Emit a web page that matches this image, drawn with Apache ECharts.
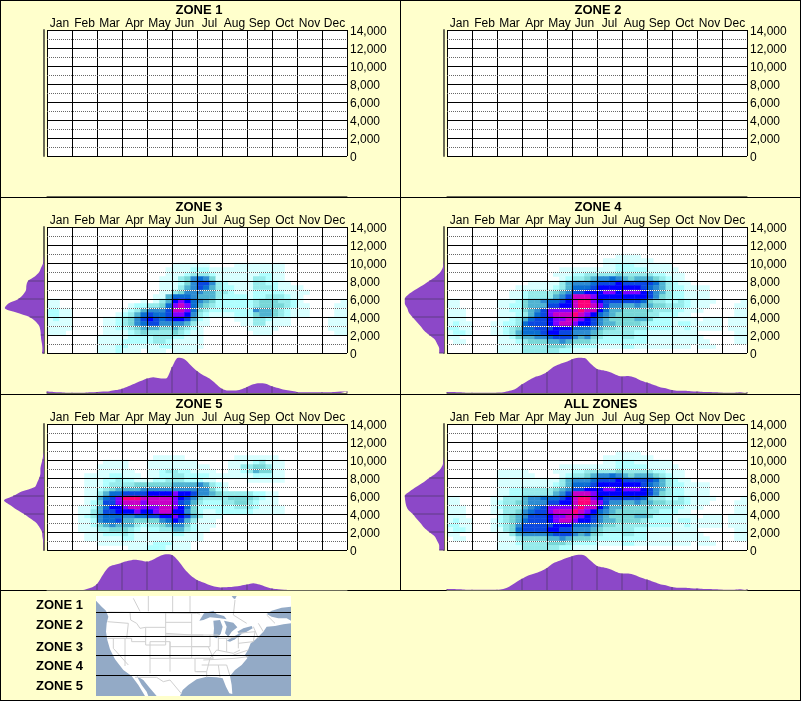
<!DOCTYPE html>
<html><head><meta charset="utf-8">
<style>html,body{margin:0;padding:0;background:#ffffcc}#c{width:801px;height:701px}</style>
<script src="https://cdn.jsdelivr.net/npm/echarts@6/dist/echarts.min.js"></script>
</head><body><div id="c"></div>
<script>
const months = ['Jan','Feb','Mar','Apr','May','Jun','Jul','Aug','Sep','Oct','Nov','Dec'];
const zoneNames = ['ZONE 1','ZONE 2','ZONE 3','ZONE 4','ZONE 5','ALL ZONES'];
const levelColors = ['#d8ffff','#b0ffff','#96ebeb','#78d7d7','#50b4d2','#2d8cd2','#0a6ed2','#0a48e0','#0000ff','#8000ff','#c800c8','#ff0078'];

// density class per half-thousand-foot row (top row = 14,000-13,500) and quarter-month column
const heatZone1 = [];
const heatZone2 = [];
const heatZone3 = ['','','','','','','','',
'0000 0000 0000 0000 0000 1111 1100 0011 1111 1100',
'0000 0000 0000 0000 0001 1112 2211 1111 1111 1100',
'0000 0000 0000 0000 0001 1123 3321 1111 1122 1100',
'0000 0000 0000 0000 0011 1346 7641 1111 1332 1100',
'0000 0000 0000 0000 0011 1246 8863 2111 1332 2110',
'0000 0000 0000 0000 0011 1356 8753 2211 1333 2111 1000',
'0000 0000 0000 0000 0011 3466 6553 3211 1222 2211 1100',
'0000 0000 0000 0000 0115 7776 5553 2222 1223 3321 1000',
'1100 0000 0000 0001 0135 9a97 6542 2222 2344 4332 1000 0001',
'1100 0000 0000 0122 3347 aba7 5432 2222 2344 4432 1100 0011',
'2211 0000 0000 1235 6668 bba7 4322 2222 2655 4321 1100 0011',
'2211 0000 0001 2357 8778 aa96 3211 1122 2455 4321 1100 0011',
'1211 0000 0112 3468 9878 9985 2100 0011 1332 1110 0000 0111',
'1111 0000 0112 3467 8866 6653 1100 0001 1331 1110 0000 0111',
'1111 0000 0112 2345 5544 5432 1000 0000 1111 1000 0000 0111',
'1110 0000 0111 1234 3333 4321 1000 0000 0111 0000 0000 0011',
'0000 0000 1111 1222 2333 2211 1000',
'0000 0000 1111 2222 2332 1111 1000',
'0000 0000 1112 2111 1122 1111 1000',
'0000 0000 1112 1110 1110 1111'];
const heatZone4 = ['','','','','','',
'0000 0000 0000 0000 0000 0000 0001 1110',
'0000 0000 0000 0000 0000 0000 0111 1111 1000',
'0000 0000 0000 0000 0000 0000 0112 2211 1111',
'0000 0000 0000 0000 0011 1111 1112 2222 1111 1000',
'0000 0000 0000 0000 0111 2233 3334 3333 3221 1100',
'0000 0000 0000 0000 0012 3345 6676 5455 5432 1100',
'0000 0000 0000 0111 1135 6667 8889 8888 8753 2110',
'0000 0000 0001 1111 1235 7778 9999 9998 7653 2211 1100',
'0000 0000 0011 2333 3456 8899 9aa9 aaa9 8653 2211 1100',
'0000 0000 0011 2333 3568 bbba 9999 9999 8643 2211 1100',
'1100 0000 1112 4556 7789 bcca 9888 8887 4332 2321 1110 0001',
'1100 0000 1122 4555 8899 bccb a866 5565 5443 3321 1100 0011',
'1110 0000 1122 4568 aaaa bcbb 9755 4444 4333 2211 1000 0011',
'1110 0000 1112 3578 abbb cba9 7654 4444 3322 2110 0000 0011',
'1110 0000 1123 5788 9aab ba98 6544 4455 4222 1111 0111 0111',
'1211 0001 1223 7888 9abb a998 6554 4443 2222 1221 1111 0111',
'2211 0001 1234 7788 8999 7776 5443 3333 2222 1121 1111 0111',
'1221 0001 1235 7778 9988 6665 4333 3322 1111 1111 0000 0011',
'1100 0000 1124 5566 7888 6564 3222 3322 1111 1111 1000 0011',
'0110 0000 1112 3444 5565 4443 2222 2222 1111 1111 1100 0011',
'0000 0000 1111 3333 4443 2222 1111 2211 1111 1110 1110',
'0000 0000 1111 3333 3322 1111'];
const heatZone5 = ['','','','','','','',
'0000 0000 0000 0000 0111 1100 0000 0011 1111 1000',
'0000 0000 0111 1000 1111 1111 0000 0111 1231 1100',
'0000 0000 1111 1000 1111 1111 1100 0113 3443 1100',
'0000 0000 1111 1100 1123 3221 1110 0112 3544 1100',
'0000 0011 1122 1110 1122 3322 2211 1111 1222 1100',
'0000 0011 1223 2211 1223 3322 2110 0000 1111 1100',
'0000 0011 1233 3344 4444 5555 6532 1000',
'0000 0011 2345 5556 6666 6666 6642 1000',
'0000 0011 3577 8888 9999 a998 6654 3333 3221 1000',
'0000 0011 578a cccb bbbb a986 4333 3444 4321 1000',
'0000 0012 488a bbba bbbb a875 3222 3344 3211 1000',
'0000 0112 5799 abba aabb a974 2222 2233 3211 1100',
'0000 0113 5889 99a9 9abb 9964 2112 2222 2111 1100',
'0000 0123 6777 6677 8899 a985 3111',
'0000 0112 6778 5544 4467 9853 1110',
'0000 0112 4565 5532 3345 6642 1110',
'0000 0111 3344 4321 2233 5532 1100',
'0000 0011 1222 3211 1111 2211 1000',
'0000 0011 1111 2211 1111 1111 1000',
'0000 0000 1111 1111 1222 1110',
'0000 0000 0000 0111 2221 1110'];
const heatAll = ['','','','','','',
'0000 0000 0000 0000 0000 0000 0001 1110',
'0000 0000 0000 0000 0000 0000 0111 1111 1000',
'0000 0000 0000 0000 0000 0000 0112 2211 1111',
'0000 0000 0000 0000 0011 1111 1112 2222 1111 1000',
'0000 0000 1111 1000 0111 2233 3334 3333 3221 1100',
'0000 0000 1111 1100 0012 3345 6676 5455 5432 1100',
'0000 0000 1111 1111 1135 6667 8889 8888 8753 2110',
'0000 0000 1111 1111 1235 7778 9999 9998 7653 2211 1100',
'0000 0000 1122 3333 3456 8899 9aa9 aaa9 8653 2211 1100',
'0000 0000 1122 3333 3568 bbba 9999 9999 8643 2211 1100',
'1100 0001 1333 5667 7789 bcca 9888 8887 4332 2321 1110 0001',
'1100 0001 2334 5666 8899 bccb a866 5565 5443 3321 1100 0011',
'1110 0001 2333 5678 aaaa bcbb 9755 4444 4333 2211 1000 0011',
'1110 0001 1334 6788 abbb cba9 7654 4444 3322 2110 0000 0011',
'1110 0000 2345 6888 9aab ba98 6544 4455 4222 1111 0111 0111',
'1211 0001 2345 7888 9abb a998 6554 4443 2222 1221 1111 0111',
'2211 0001 2346 8888 8999 7776 5443 3333 2222 1121 1111 0111',
'1221 0001 1347 8888 9988 6665 4333 3322 1111 1111 0000 0011',
'1100 0000 1135 6666 7888 6564 3222 3322 1111 1111 1000 0011',
'0110 0000 1113 4444 5565 4443 2222 2222 1111 1111 1100 0011',
'0000 0000 1112 3333 4443 2222 1111 2211 1111 1110 1110',
'0000 0000 1111 3333 3322 1111'];

// monthly marginal density (quarter-month samples, % of peak)
const timeZone3 = [4,3,2,1,1,1,1,2,3,4,5,8,12,19,26,33,40,44,41,40,72,98,94,77,61,49,40,26,12,7,7,10,17,24,27,26,19,14,9,6,3,2,2,2,2,2,3,4,5];
const timeZone4 = [3,3,2,1,1,1,1,1,1,2,6,12,24,35,44,49,58,72,80,86,94,98,97,81,67,63,58,51,46,47,43,35,29,23,17,13,8,6,6,5,4,3,3,2,1,1,1,2,3];
const timeZone5 = [0,0,0,0,0,0,1,6,17,44,65,71,76,81,84,82,79,85,94,99,97,81,58,40,28,21,14,9,7,8,10,12,15,19,15,9,4,2,1,0,0,0,0,0,0,0,0,0,0];
const timeAll = [3,3,2,1,1,1,1,1,1,3,10,21,31,40,46,52,61,74,81,88,94,98,96,81,67,63,58,51,46,46,42,35,29,23,17,13,8,6,6,5,4,3,3,2,1,1,1,2,3];
// altitude marginal density (samples every 500 from 0 to 14,000, % of peak)
const altZone3 = [5,4,5,7,8,9,12,21,36,69,98,89,64,52,45,44,40,23,12,7,2,1,0,0,0,0,0,0,0];
const altZone4 = [12,12,17,23,37,50,59,69,79,88,92,98,98,89,73,54,37,21,9,3,1,0,0,0,0,0,0,0,0];
const altZone5 = [1,1,2,4,5,11,19,34,50,69,85,100,77,56,23,17,12,9,9,7,4,2,0,0,0,0,0,0,0];
const altAll = [12,12,17,23,37,50,59,69,78,90,95,97,98,86,70,52,37,21,9,3,1,0,0,0,0,0,0,0,0];

const heats = [heatZone1,heatZone2,heatZone3,heatZone4,heatZone5,heatAll];
const times = [[],[],timeZone3,timeZone4,timeZone5,timeAll];
const alts = [[],[],altZone3,altZone4,altZone5,altAll];
const yTicks = {min:0,max:14000,step:2000};

const FONT = 'Liberation Sans';
const PURPLE = '#8c48c8', MARK = '#5e3c84', RAIL = '#6b6b58';
const colCats = Array.from({length:48},(_,i)=>String(i));
const rowCats = Array.from({length:28},(_,i)=>String(i));
const timeCats = Array.from({length:49},(_,i)=>String(i));
const altCats = Array.from({length:29},(_,i)=>String(i*500));

const grid=[],xAxis=[],yAxis=[],series=[],title=[],heatIdx=[];
heats.forEach((rows,p)=>{
  const px = p%2===0 ? 0 : 400, py = Math.floor(p/2)*197;
  title.push({text:zoneNames[p],left:px+199+(p===5?1.5:p%2?-1:0),top:py+4,textAlign:'center',padding:0,
    textStyle:{fontFamily:FONT,fontSize:13,fontWeight:'bold',color:'#000'}});
  const g0=grid.length;
  grid.push({left:px+47,top:py+30,width:300,height:126,show:true,backgroundColor:'#fff',borderWidth:0});
  grid.push({left:px+47,top:py+160,width:300,height:36});
  grid.push({left:px+4,top:py+30,width:40,height:126});
  const xb=xAxis.length,yb=yAxis.length;
  xAxis.push({gridIndex:g0,type:'category',data:colCats,show:false});
  xAxis.push({gridIndex:g0,type:'category',data:months,position:'top',z:11,
    axisLine:{show:false},axisTick:{show:false},
    axisLabel:{interval:0,margin:0,fontFamily:FONT,fontSize:12,color:'#000'},
    splitLine:{show:true,interval:0,lineStyle:{color:'#000',width:1}}});
  xAxis.push({gridIndex:g0+1,type:'category',data:timeCats,boundaryGap:false,
    axisTick:{show:false},axisLabel:{show:false},axisLine:{show:true,lineStyle:{color:RAIL,width:1}},splitLine:{show:false}});
  xAxis.push({gridIndex:g0+2,type:'value',min:0,max:100,inverse:true,show:false,splitLine:{show:false}});
  yAxis.push({gridIndex:g0,type:'category',data:rowCats,show:false});
  yAxis.push({gridIndex:g0,type:'value',min:yTicks.min,max:yTicks.max,interval:yTicks.step,position:'right',z:12,
    axisLine:{show:false},axisTick:{show:false},
    axisLabel:{margin:3,verticalAlign:'top',lineHeight:3,fontFamily:FONT,fontSize:12,color:'#000',formatter:v=>v.toLocaleString('en-US')},
    splitLine:{show:true,lineStyle:{color:'#000',width:1}},
    minorTick:{show:false,splitNumber:2},
    minorSplitLine:{show:true,lineStyle:{color:'#666',width:1,type:[1,1]}}});
  yAxis.push({gridIndex:g0,type:'value',min:yTicks.min,max:yTicks.max,interval:yTicks.step/2,position:'left',z:9,
    axisLine:{show:false},axisTick:{show:false},axisLabel:{show:false},
    splitLine:{show:true,lineStyle:{color:'#fff',width:1}}});
  yAxis.push({gridIndex:g0+1,type:'value',min:0,max:100,show:false,splitLine:{show:false}});
  yAxis.push({gridIndex:g0+2,type:'category',data:altCats,boundaryGap:false,position:'right',
    axisTick:{show:false},axisLabel:{show:false},axisLine:{show:true,lineStyle:{color:RAIL,width:2}},splitLine:{show:false}});

  const cells=[];
  rows.forEach((r,i)=>{
    const s=r.replace(/ /g,'');
    for(let c=0;c<s.length;c++){const v=parseInt(s[c],16); if(v>0) cells.push([c,27-i,v]);}
  });
  heatIdx.push(series.length);
  series.push({type:'heatmap',xAxisIndex:xb,yAxisIndex:yb,data:cells,silent:true,z:2,
    itemStyle:{borderWidth:0},emphasis:{disabled:true},progressive:0});
  const t=times[p],a=alts[p];
  series.push({type:'line',xAxisIndex:xb+2,yAxisIndex:yb+3,data:t,symbol:'none',silent:true,z:2,smooth:0.3,
    lineStyle:{width:0},areaStyle:{color:PURPLE,opacity:1}});
  series.push({type:'bar',xAxisIndex:xb+2,yAxisIndex:yb+3,barWidth:1,silent:true,z:3,
    data:t.map((v,i)=>i%4===0?v:'-'),itemStyle:{color:MARK}});
  series.push({type:'line',xAxisIndex:xb+3,yAxisIndex:yb+4,data:a,symbol:'none',silent:true,z:2,smooth:0.3,
    lineStyle:{width:0},areaStyle:{color:PURPLE,opacity:1}});
  series.push({type:'bar',xAxisIndex:xb+3,yAxisIndex:yb+4,barWidth:1,silent:true,z:3,
    data:a.map((v,i)=>i%4===0?v:'-'),itemStyle:{color:MARK}});
});

// panel frame
const bar=(x,y,w,h)=>({type:'rect',shape:{x,y,width:w,height:h},style:{fill:'#000'},silent:true});
const frame=[bar(0,0,801,1),bar(0,0,1,701),bar(800,0,1,701),bar(0,700,801,1),bar(400,0,1,591),
  bar(0,197,801,1),bar(0,394,801,1),bar(0,590,801,1)];

// location key: stylised map of the zones (coordinates are sketch units of the inset)
const MX=96,MY=596;
const sk=p=>p.map(([x,y])=>[(x-288)/3+MX,(y-18)/3+MY]);
const WATER='#93aac6';
const land=[[288,18],[873,18],[873,50],[845,53],[815,62],[800,72],[815,80],[835,85],[860,85],[873,92],[873,100],[850,103],[825,108],[800,110],[790,125],[775,140],[765,150],[752,160],[745,178],[735,195],[742,205],[725,225],[705,240],[690,258],[695,285],[697,312],[688,310],[678,290],[668,265],[650,262],[620,260],[590,268],[565,285],[548,300],[540,318],[470,318],[450,295],[430,270],[410,258],[425,285],[440,305],[445,318],[435,318],[415,285],[395,258],[370,240],[345,208],[330,178],[322,150],[318,125],[320,100],[325,80],[318,62],[305,50],[288,32]];
const lakes=[
 [[598,92],[612,70],[640,62],[650,72],[672,78],[680,88],[660,85],[630,82],[610,90]],
 [[640,92],[660,90],[668,110],[662,132],[650,145],[640,140],[642,115]],
 [[672,92],[700,98],[712,112],[695,125],[685,140],[675,130],[680,110]],
 [[680,152],[700,140],[722,128],[725,132],[705,148],[690,155]],
 [[712,125],[730,115],[755,108],[758,115],[735,128],[718,132]],
 [[695,18],[710,18],[705,28],[700,25]]];
const borders=[
 [[325,66],[590,70],[600,72]],[[445,18],[445,64]],[[518,18],[518,66]],[[570,18],[570,68]],[[400,25],[420,64]],
 [[705,30],[700,75],[740,100]],[[390,66],[392,90],[410,100],[420,115],[437,112]],
 [[437,112],[437,165],[497,165],[497,112],[437,112]],[[497,68],[497,112]],[[497,97],[575,97]],[[497,130],[575,135]],
 [[575,70],[575,135],[610,135]],[[322,95],[385,100],[380,145]],[[322,145],[395,145],[395,155],[437,155]],
 [[375,145],[375,228]],[[340,145],[340,175],[385,225]],[[450,155],[450,250]],[[510,155],[510,245]],
 [[450,155],[510,155],[510,205],[450,205]],[[510,170],[575,170],[575,205],[510,205]],[[510,205],[585,205],[585,245]],
 [[497,135],[575,135],[575,170]],[[575,135],[630,135],[630,170],[575,170]],[[575,170],[625,170],[640,205],[585,205]],
 [[585,205],[630,205],[620,245],[585,245]],[[590,245],[620,245],[620,262]],[[605,225],[655,225],[660,262]],[[655,225],[680,225],[690,258]],
 [[610,210],[705,205]],[[630,205],[650,180],[700,190],[720,180]],[[630,135],[655,135],[655,180]],[[655,145],[680,145],[680,185]],
 [[680,145],[715,140],[715,175]],[[715,130],[765,125],[760,155],[715,160]],[[760,110],[775,145]],[[700,195],[745,180]],[[705,205],[745,200]],
 [[775,100],[790,125]],[[800,75],[825,100]],[[405,262],[470,262],[490,275],[510,270],[545,312]]];
const zoneLinesY=[70,142,199,259];
const keyLabels=[['ZONE 1',605],['ZONE 2',625],['ZONE 3',647],['ZONE 4',666],['ZONE 5',686]];
const key=[
 {type:'rect',shape:{x:96,y:596,width:195,height:100},style:{fill:WATER},silent:true},
 {type:'polygon',shape:{points:sk(land)},style:{fill:'#fff'},silent:true},
 ...lakes.map(l=>({type:'polygon',shape:{points:sk(l)},style:{fill:WATER},silent:true})),
 ...borders.map(b=>({type:'polyline',shape:{points:sk(b)},style:{stroke:'#d0d0d0',lineWidth:1,fill:null},silent:true})),
 ...zoneLinesY.map(y=>({type:'rect',shape:{x:96,y:Math.round((y-18)/3+MY)-1,width:195,height:1},style:{fill:'#000'},silent:true})),
 ...keyLabels.map(([t,y])=>({type:'text',x:83,y,silent:true,
   style:{text:t,align:'right',verticalAlign:'middle',font:'bold 13px "'+FONT+'"',fill:'#000'}}))
];

const chart=echarts.init(document.getElementById('c'),null,{renderer:'canvas',width:801,height:701});
chart.setOption({
  animation:false,backgroundColor:'#ffffcc',title,grid,xAxis,yAxis,series,
  visualMap:[{type:'piecewise',show:false,dimension:2,seriesIndex:heatIdx,
    pieces:levelColors.map((color,i)=>({value:i+1,color})),outOfRange:{color:'rgba(0,0,0,0)'}}],
  graphic:{elements:[...frame,...key]},
  tooltip:{show:false}
});
</script></body></html>
